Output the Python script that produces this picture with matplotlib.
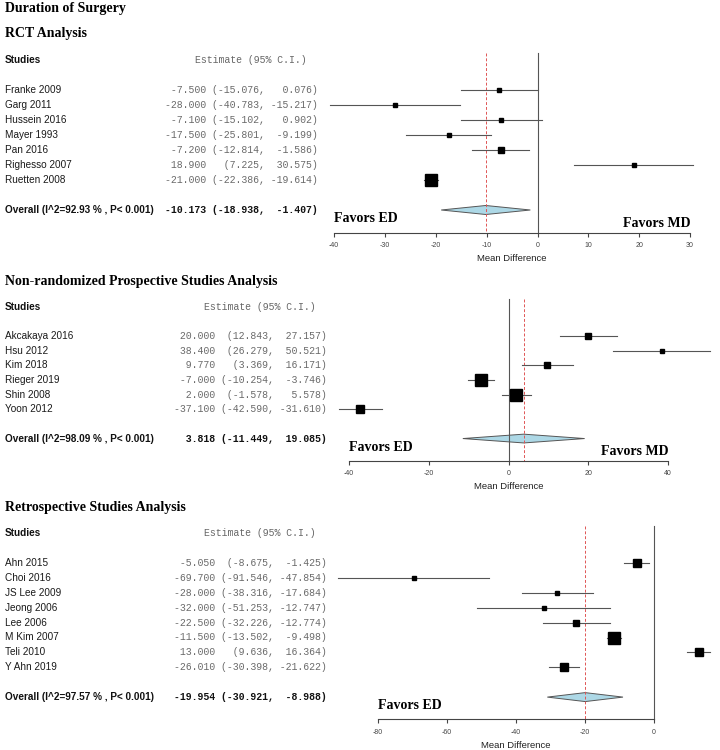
import numpy as np
import matplotlib.pyplot as plt
from matplotlib.transforms import blended_transform_factory

# Datos: RCT
rct_studies = ["Franke 2009", "Garg 2011", "Hussein 2016", "Mayer 1993", "Pan 2016",
               "Righesso 2007", "Ruetten 2008"]
rct_est = [-7.5, -28.0, -7.1, -17.5, -7.2, 18.9, -21.0]
rct_lo = [-15.076, -40.783, -15.102, -25.801, -12.814, 7.225, -22.386]
rct_hi = [0.076, -15.217, 0.902, -9.199, -1.586, 30.575, -19.614]
rct_overall = [-10.173, -18.938, -1.407]
rct_i2 = 92.93
rct_ticks = [-40, -30, -20, -10, 0, 10, 20, 30]

# Datos: no aleatorizados prospectivos
nrp_studies = ["Akcakaya 2016", "Hsu 2012", "Kim 2018", "Rieger 2019", "Shin 2008", "Yoon 2012"]
nrp_est = [20.0, 38.4, 9.77, -7.0, 2.0, -37.1]
nrp_lo = [12.843, 26.279, 3.369, -10.254, -1.578, -42.590]
nrp_hi = [27.157, 50.521, 16.171, -3.746, 5.578, -31.610]
nrp_overall = [3.818, -11.449, 19.085]
nrp_i2 = 98.09
nrp_ticks = [-40, -20, 0, 20, 40]

# Datos: retrospectivos
ret_studies = ["Ahn 2015", "Choi 2016", "JS Lee 2009", "Jeong 2006", "Lee 2006", "M Kim 2007",
               "Teli 2010", "Y Ahn 2019"]
ret_est = [-5.05, -69.7, -28.0, -32.0, -22.5, -11.5, 13.0, -26.01]
ret_lo = [-8.675, -91.546, -38.316, -51.253, -32.226, -13.502, 9.636, -30.398]
ret_hi = [-1.425, -47.854, -17.684, -12.747, -12.774, -9.498, 16.364, -21.622]
ret_overall = [-19.954, -30.921, -8.988]
ret_i2 = 97.57
ret_ticks = [-80, -60, -40, -20, 0]

W, H = 720, 750
SANS = "Liberation Sans"
SERIF = "Liberation Serif"
MONO = "Liberation Mono"


def ci_text(e, l, h):
    return f"{e:.3f}".rjust(7) + " " + f"({l:.3f},".rjust(9) + " " + f"{h:.3f})".rjust(8)


def draw_panel(ax, title, studies, est, lo, hi, overall, i2, ticks, top_px, bot_px,
               first_px, sp, zero_px, ppu, col_px, favors_md=True, main_title=None):
    n = len(studies)
    est, lo, hi = np.array(est), np.array(lo), np.array(hi)
    ax.set_xlim(-zero_px / ppu, (W - zero_px) / ppu)
    ax.set_ylim((bot_px - first_px) / sp, (top_px - first_px) / sp)
    tr = blended_transform_factory(ax.transAxes, ax.transData)
    rows = np.arange(n)
    ov_row = n + 1
    axis_row = n + 2.5

    # textos a la izquierda
    if main_title:
        ax.text(5 / W, -5.45, main_title, transform=tr, family=SERIF, weight="bold",
                fontsize=10, va="center")
    ax.text(5 / W, -3.75, title, transform=tr, family=SERIF, weight="bold",
            fontsize=10, va="center")
    ax.text(5 / W, -2, "Studies", transform=tr, family=SANS, weight="bold",
            fontsize=7.2, va="center", color="#111111")
    ax.text((col_px - 11) / W, -2, "Estimate (95% C.I.)", transform=tr, family=MONO,
            fontsize=7.1, va="center", ha="right", color="#666666")
    for r, s, e, l, h in zip(rows, studies, est, lo, hi):
        ax.text(5 / W, r, s, transform=tr, family=SANS, fontsize=7.2, va="center",
                color="#1a1a1a")
        ax.text(col_px / W, r, ci_text(e, l, h), transform=tr, family=MONO,
                fontsize=7.1, va="center", ha="right", color="#6a6a6a")
    ax.text(5 / W, ov_row, f"Overall (I^2={i2:.2f} % , P< 0.001)", transform=tr,
            family=SANS, weight="bold", fontsize=7.2, va="center", color="#111111")
    ax.text(col_px / W, ov_row, ci_text(*overall), transform=tr, family=MONO,
            weight="bold", fontsize=7.1, va="center", ha="right", color="#111111")

    # lineas de referencia
    ax.plot([0, 0], [-2.5, axis_row], color="#555555", lw=0.8, clip_on=False)
    ax.plot([overall[0], overall[0]], [-2.5, axis_row], color="#e05555", lw=0.7,
            ls=(0, (3, 2)), clip_on=False)

    # IC y cuadrados (tamano segun 1/sqrt(vi), como metafor)
    wi = 1 / (hi - lo)
    psize = 0.5 + (wi - wi.min()) / (wi.max() - wi.min())
    for r, e, l, h, p in zip(rows, est, lo, hi, psize):
        ax.plot([l, h], [r, r], color="#555555", lw=0.8, clip_on=False)
        ax.plot([e], [r], marker="s", color="black", markersize=5.8 * p, ls="none",
                clip_on=False)

    # diamante global
    d = 0.3
    ax.fill([overall[1], overall[0], overall[2], overall[0]],
            [ov_row, ov_row - d, ov_row, ov_row + d], facecolor="#add8e6",
            edgecolor="#555555", lw=0.7, clip_on=False)

    ax.text(ticks[0], n + 1.58, "Favors ED", family=SERIF, weight="bold", fontsize=10,
            ha="left", va="center")
    if favors_md:
        ax.text(ticks[-1], n + 1.87, "Favors MD", family=SERIF, weight="bold",
                fontsize=10, ha="right", va="center")

    # eje x
    for sname in ["top", "left", "right"]:
        ax.spines[sname].set_visible(False)
    ax.spines["bottom"].set_position(("data", axis_row))
    ax.spines["bottom"].set_bounds(ticks[0], ticks[-1])
    ax.spines["bottom"].set_color("#444444")
    ax.spines["bottom"].set_linewidth(0.8)
    ax.set_yticks([])
    ax.set_xticks(ticks)
    ax.set_xticklabels([str(t) for t in ticks])
    ax.tick_params(axis="x", direction="out", length=3, width=0.8, pad=4,
                   labelsize=5, colors="#444444")
    for lab in ax.get_xticklabels():
        lab.set_family(SANS)
    ax.text((ticks[0] + ticks[-1]) / 2, axis_row + 1.75, "Mean Difference", family=SANS,
            fontsize=6.8, ha="center", va="center", color="#222222")


fig = plt.figure(figsize=(7.2, 7.5), dpi=100)


def panel_axes(top_px, bot_px):
    return fig.add_axes([0, 1 - bot_px / H, 1, (bot_px - top_px) / H], facecolor="none")


ax1 = panel_axes(0, 270)
draw_panel(ax1, "RCT Analysis", rct_studies, rct_est, rct_lo, rct_hi, rct_overall, rct_i2,
           rct_ticks, 0, 270, 90, 15.0, 537.5, 5.085, 318, main_title="Duration of Surgery")

ax2 = panel_axes(270, 495)
draw_panel(ax2, "Non-randomized Prospective Studies Analysis", nrp_studies, nrp_est, nrp_lo,
           nrp_hi, nrp_overall, nrp_i2, nrp_ticks, 270, 495, 336, 14.65, 508.5, 3.99, 327)

ax3 = panel_axes(495, 750)
draw_panel(ax3, "Retrospective Studies Analysis", ret_studies, ret_est, ret_lo, ret_hi,
           ret_overall, ret_i2, ret_ticks, 495, 750, 563, 14.9, 654, 3.45, 327,
           favors_md=False)

plt.savefig("out.png", dpi=100)
